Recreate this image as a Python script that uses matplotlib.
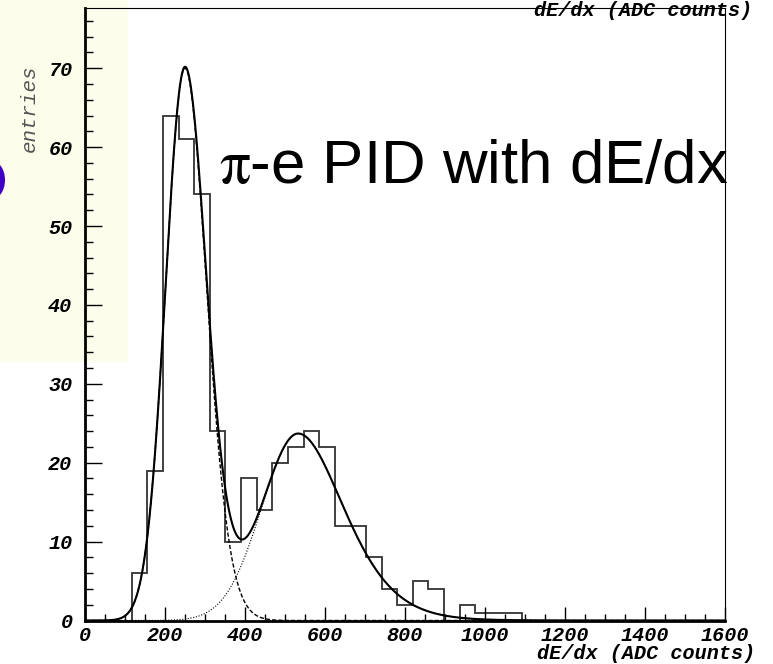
import numpy as np
import matplotlib.pyplot as plt
from matplotlib.patches import Rectangle, Ellipse

# histogramme dE/dx : 41 bins entre 0 et 1600 ADC counts
x_min, x_max, n_bins = 0, 1600, 41
counts = [0, 0, 0, 6, 19, 64, 61, 54, 24, 10,
          18, 14, 20, 22, 24, 22, 12, 12, 8, 4,
          2, 5, 4, 0, 2, 1, 1, 1, 0, 0,
          0, 0, 0, 0, 0, 0, 0, 0, 0, 0, 0]

# parametres des fits : amplitude, pic, sigma gauche, sigma droite, queue
pion_fit = [70.0, 250.0, 48.5, 52.0, 0.035]
elec_fit = [23.7, 533.0, 91.0, 103.0, 0.09]

x_ticks = [0, 200, 400, 600, 800, 1000, 1200, 1400, 1600]
y_ticks = [0, 10, 20, 30, 40, 50, 60, 70]
y_max = 77.6

x_title = 'dE/dx (ADC counts)'
y_title = 'entries'
big_title = r'$\mathrm{\pi}$-e PID with dE/dx'


def fit_shape(x, amp, mean, sig_l, sig_r, tail):
    d = x - mean
    sig = np.where(d < 0, sig_l, sig_r + tail * np.abs(d))
    return amp * np.exp(-0.5 * (d / sig) ** 2)


plt.rcParams['mathtext.fontset'] = 'stix'

W, H = 773, 664
fig = plt.figure(figsize=(W / 100, H / 100), dpi=100)

# fond creme de la diapo + morceau de lettre bleue coupe a gauche
fig.patches.append(Rectangle((0, 1 - 362 / H), 128 / W, 362 / H, transform=fig.transFigure,
                             facecolor='#fdfdeb', edgecolor='none', zorder=0))
fig.patches.append(Ellipse((-8 / W, 1 - 180 / H), 26 / W, 38 / H, transform=fig.transFigure,
                           facecolor='#3d00c4', edgecolor='none', zorder=1))

ax = fig.add_axes([85 / W, 1 - 620.5 / H, 640 / W, 612.2 / H])
ax.set_facecolor('none')
ax.set_zorder(3)

edges = np.linspace(x_min, x_max, n_bins + 1)
ax.stairs(counts, edges, color='#333333', lw=1.3)

xs = np.linspace(x_min, x_max, 1601)
pion = fit_shape(xs, *pion_fit)
elec = fit_shape(xs, *elec_fit)
ax.plot(xs, pion, color='black', lw=1.0, ls=(0, (3, 1.5)))
ax.plot(xs, elec, color='black', lw=0.8, ls=(0, (1, 1.5)))
ax.plot(xs, pion + elec, color='black', lw=1.5)

ax.set_xlim(x_min, x_max)
ax.set_ylim(0, y_max)

tick_font = {'family': 'Liberation Mono', 'weight': 'bold', 'style': 'italic', 'size': 14.5}
ax.set_xticks(x_ticks)
ax.set_xticks(np.arange(0, 1601, 50), minor=True)
ax.set_yticks(y_ticks)
ax.set_yticks(np.arange(0, 78, 2), minor=True)
ax.set_xticklabels([str(t) for t in x_ticks], fontdict=tick_font)
ax.set_yticklabels([str(t) for t in y_ticks], fontdict=tick_font)
ax.tick_params(axis='x', which='major', direction='in', length=10, width=1, pad=4)
ax.tick_params(axis='x', which='minor', direction='in', length=5, width=1)
ax.tick_params(axis='y', which='major', direction='in', length=12, width=1, pad=9)
ax.tick_params(axis='y', which='minor', direction='in', length=6, width=1)

for side in ['left', 'bottom']:
    ax.spines[side].set_linewidth(2)
for side in ['top', 'right']:
    ax.spines[side].set_linewidth(0.8)

fig.text(755 / W, 1 / H, x_title, ha='right', va='bottom', fontdict=tick_font)
fig.text(752 / W, 1 - 1.5 / H, x_title, ha='right', va='top', fontdict=tick_font, zorder=5)
fig.text(29 / W, 1 - 108 / H, y_title, ha='center', va='center', rotation=90,
         family='Liberation Mono', style='italic', size=15, color='#555555')

fig.text(219 / W, 1 - 183 / H, big_title, ha='left', va='baseline',
         family='Liberation Sans', size=44.5, zorder=5)

fig.savefig('out.png', dpi=100)
